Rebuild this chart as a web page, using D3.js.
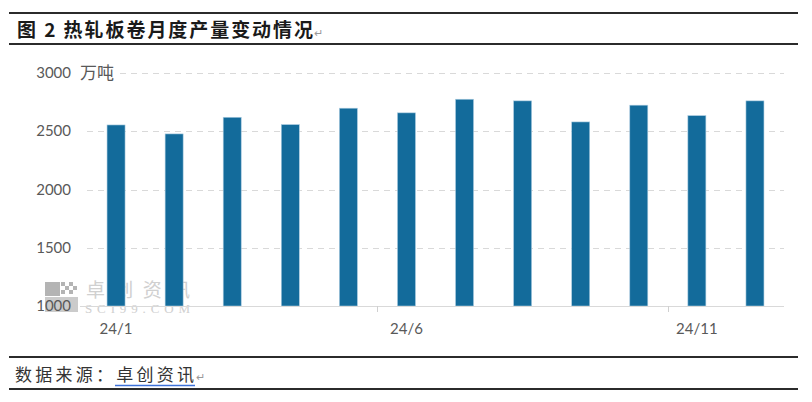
<!DOCTYPE html>
<html>
<head>
<meta charset="utf-8">
<script src="https://cdn.jsdelivr.net/npm/d3@7"></script>
<style>
  body { margin: 0; background: #fff; }
  svg { display: block; }
</style>
</head>
<body>
<div id="chart"></div>
<script>
// monthly output, 10k tonnes
const months = ["24/1", "24/2", "24/3", "24/4", "24/5", "24/6", "24/7", "24/8", "24/9", "24/10", "24/11", "24/12"];
const output = [2556, 2479, 2622, 2559, 2700, 2660, 2777, 2763, 2582, 2726, 2636, 2763];
const yTicks = [1000, 1500, 2000, 2500, 3000];
const xLabels = ["24/1", "24/6", "24/11"];

const width = 812, height = 402;
const svg = d3.select("#chart").append("svg")
    .attr("width", width)
    .attr("height", height);

const cjk = "'Noto Sans CJK SC', sans-serif";
const latin = "Lato, 'Noto Sans', sans-serif";

// frame lines
[13, 44, 357, 389].forEach(function(y) {
    svg.append("line")
        .attr("x1", 9).attr("x2", 798)
        .attr("y1", y).attr("y2", y)
        .attr("stroke", "#2b2b2b")
        .attr("stroke-width", 2);
});

// title
svg.append("text")
    .attr("x", 17).attr("y", 37)
    .attr("font-family", cjk)
    .attr("font-weight", 700)
    .attr("font-size", 19)
    .attr("fill", "#1a1a1a")
    .attr("textLength", 296)
    .attr("lengthAdjust", "spacing")
    .text("图 2 热轧板卷月度产量变动情况");
svg.append("text")
    .attr("x", 314).attr("y", 37)
    .attr("font-family", cjk)
    .attr("font-size", 11)
    .attr("fill", "#999")
    .text("↵");

// scales
const x = d3.scaleBand().domain(months).range([87, 784]).padding(0);
const y = d3.scaleLinear().domain([1000, 3000]).range([306, 73.3]);
const barW = x.bandwidth() * 0.31;

// gridlines
svg.append("g")
    .selectAll("line")
    .data(yTicks.filter(d => d > 1000))
    .join("line")
    .attr("x1", 87).attr("x2", 784)
    .attr("y1", d => Math.round(y(d)) + 0.5)
    .attr("y2", d => Math.round(y(d)) + 0.5)
    .attr("stroke", "#d9d9d9")
    .attr("stroke-width", 1)
    .attr("stroke-dasharray", "6,5");

// watermark (behind bars)
const wm = svg.append("g").attr("opacity", 0.85);
wm.append("rect").attr("x", 45).attr("y", 282).attr("width", 15).attr("height", 14).attr("fill", "#a8a8a8");
[[61, 282], [69, 282], [65, 286], [73, 286], [61, 290], [69, 290]].forEach(function(p) {
    wm.append("rect").attr("x", p[0]).attr("y", p[1]).attr("width", 4).attr("height", 4).attr("fill", "#a8a8a8");
});
wm.append("rect").attr("x", 45).attr("y", 297).attr("width", 33).attr("height", 15).attr("fill", "#c2c2c2");
wm.append("text")
    .attr("x", 86).attr("y", 297)
    .attr("font-family", cjk)
    .attr("font-size", 19)
    .attr("fill", "#c8c8c8")
    .attr("textLength", 104)
    .attr("lengthAdjust", "spacing")
    .text("卓创资讯");
wm.append("text")
    .attr("x", 85).attr("y", 313)
    .attr("font-family", "'Liberation Serif', serif")
    .attr("font-size", 13)
    .attr("fill", "#c8c8c8")
    .attr("textLength", 105)
    .attr("lengthAdjust", "spacing")
    .text("SCI99.COM");

// bars
svg.append("g")
    .selectAll("rect")
    .data(output)
    .join("rect")
    .attr("x", (d, i) => x(months[i]) + (x.bandwidth() - barW) / 2)
    .attr("y", d => y(d))
    .attr("width", barW)
    .attr("height", d => y(1000) - y(d))
    .attr("fill", "#136b9b")
    .attr("stroke", "#a9cbe0")
    .attr("stroke-width", 0.6);

// x axis line and ticks
svg.append("line")
    .attr("x1", 80).attr("x2", 784)
    .attr("y1", 306.5).attr("y2", 306.5)
    .attr("stroke", "#d9d9d9");
svg.append("g")
    .selectAll("line")
    .data(xLabels.slice(1))
    .join("line")
    .attr("x1", d => Math.round(x(d)) + 0.5)
    .attr("x2", d => Math.round(x(d)) + 0.5)
    .attr("y1", 306).attr("y2", 312)
    .attr("stroke", "#d0d0d0");

svg.append("g")
    .selectAll("text")
    .data(xLabels)
    .join("text")
    .attr("x", d => x(d) + x.bandwidth() / 2)
    .attr("y", 334)
    .attr("text-anchor", "middle")
    .attr("font-family", latin)
    .attr("font-size", 15)
    .attr("fill", "#595959")
    .text(d => d);

// y labels
svg.append("g")
    .selectAll("text")
    .data(yTicks)
    .join("text")
    .attr("x", 71)
    .attr("y", d => y(d) + 5)
    .attr("text-anchor", "end")
    .attr("font-family", latin)
    .attr("font-size", 15)
    .attr("fill", "#595959")
    .text(d => d);

// unit label over the top gridline
svg.append("rect")
    .attr("x", 78).attr("y", 62).attr("width", 40).attr("height", 22)
    .attr("fill", "#fff");
svg.append("text")
    .attr("x", 80).attr("y", 79)
    .attr("font-family", cjk)
    .attr("font-size", 17)
    .attr("fill", "#595959")
    .text("万吨");

// source
svg.append("text")
    .attr("x", 15).attr("y", 381)
    .attr("font-family", cjk)
    .attr("font-size", 17)
    .attr("fill", "#333")
    .attr("textLength", 179)
    .attr("lengthAdjust", "spacing")
    .text("数据来源：卓创资讯");
svg.append("line")
    .attr("x1", 115).attr("x2", 195)
    .attr("y1", 385.5).attr("y2", 385.5)
    .attr("stroke", "#3d72d9")
    .attr("stroke-width", 1.5);
svg.append("text")
    .attr("x", 196).attr("y", 381)
    .attr("font-family", cjk)
    .attr("font-size", 11)
    .attr("fill", "#999")
    .text("↵");
</script>
</body>
</html>
